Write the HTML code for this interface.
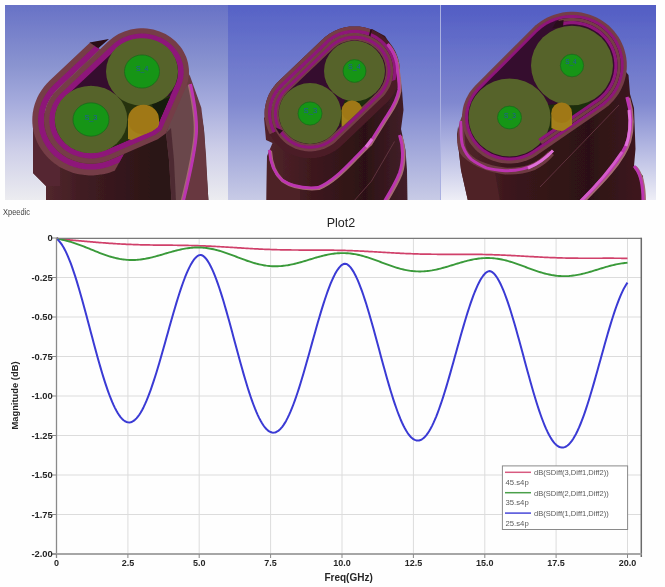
<!DOCTYPE html><html><head><meta charset="utf-8"><title>Plot2</title><style>html,body{margin:0;padding:0;background:#fff;}svg{display:block;}</style></head><body><svg width="665" height="587" viewBox="0 0 665 587">
<defs>
<linearGradient id="bg1" x1="0" y1="5" x2="0" y2="200" gradientUnits="userSpaceOnUse"><stop offset="0" stop-color="#6872c6"/><stop offset="0.31" stop-color="#8a94d0"/><stop offset="0.49" stop-color="#a4aadc"/><stop offset="0.74" stop-color="#cdcee8"/><stop offset="1" stop-color="#ececf0"/></linearGradient>
<linearGradient id="bg2" x1="0" y1="5" x2="0" y2="200" gradientUnits="userSpaceOnUse"><stop offset="0" stop-color="#5662c6"/><stop offset="0.5" stop-color="#7f88d0"/><stop offset="1" stop-color="#c8cbe6"/></linearGradient>
<linearGradient id="bg3" x1="0" y1="5" x2="0" y2="200" gradientUnits="userSpaceOnUse"><stop offset="0" stop-color="#525dc4"/><stop offset="0.5" stop-color="#8088d0"/><stop offset="1" stop-color="#eeeef6"/></linearGradient>
<clipPath id="cp1"><rect x="5" y="5" width="223" height="195"/></clipPath>
<clipPath id="cp2"><rect x="228" y="5" width="212" height="195"/></clipPath>
<clipPath id="cp3"><rect x="441" y="5" width="215" height="195"/></clipPath>
<linearGradient id="bd1" x1="33" y1="0" x2="200" y2="0" gradientUnits="userSpaceOnUse"><stop offset="0" stop-color="#582a31"/><stop offset="0.3" stop-color="#401c22"/><stop offset="0.75" stop-color="#2a1215"/><stop offset="1" stop-color="#30151a"/></linearGradient>
<linearGradient id="bd2" x1="266" y1="0" x2="408" y2="0" gradientUnits="userSpaceOnUse"><stop offset="0" stop-color="#52242b"/><stop offset="0.35" stop-color="#3c181d"/><stop offset="0.7" stop-color="#2c1115"/><stop offset="1" stop-color="#44202a"/></linearGradient>
<linearGradient id="bd3" x1="457" y1="0" x2="645" y2="0" gradientUnits="userSpaceOnUse"><stop offset="0" stop-color="#54262c"/><stop offset="0.3" stop-color="#3a161b"/><stop offset="0.7" stop-color="#2c1115"/><stop offset="1" stop-color="#40191f"/></linearGradient>
<filter id="soft" x="-2%" y="-2%" width="104%" height="104%"><feGaussianBlur stdDeviation="0.55"/></filter>
</defs>
<rect width="665" height="587" fill="#fefefe"/>
<g clip-path="url(#cp1)"><g filter="url(#soft)">
<rect x="5" y="5" width="223" height="195" fill="url(#bg1)"/>
<path d="M33,112 33,173 40,180 46,186 46,201 208.5,201 206,165 204,130 201.5,115 197,97 190,82 185,70 120,120Z" fill="url(#bd1)"/>
<path d="M33,120 33,173 40,180 46,186 60,186 60,150Z" fill="#552830"/>
<path d="M184,66 190,76 195,90 201.3,107.7 204,130 206,155 208.4,201 183,201 193,160 196.5,131.5 194,105 190.5,84 176,95Z" fill="#673840"/>
<path d="M166,133 171,119 176,100 182,88 190.5,84 194,105 196.5,131.5 193,160 183.4,201 171.5,201 169,160Z" fill="#6a474c"/>
<path d="M166,133 169,160 171.5,201 176,201 174,160 171,128Z" fill="#4e2c32"/>
<path d="M190.5,84 C194,100 197,118 196.5,131.5 C196,145 193,162 183.4,201" transform="translate(-1.0,0.3)" fill="none" stroke="#a56a72" stroke-width="3.6"/>
<path d="M190.5,84 C194,100 197,118 196.5,131.5 C196,145 193,162 183.4,201" fill="none" stroke="#bc36b0" stroke-width="3.0"/>
<path d="M48.8,81.5 46.6,83.8 46,84.4 44,86.8 43.5,87.4 41.7,90 41.2,90.7 39.6,93.3 39.1,94 37.7,96.8 37.3,97.6 36.1,100.4 35.8,101.2 34.8,104.1 34.5,104.9 33.7,107.9 33.5,108.7 33,111.7 32.8,112.6 32.5,115.6 32.5,116.1 32.4,116.2 32.4,116.3 32.4,116.5 32.3,119.6 32.3,119.8 32.3,120 32.3,120.2 32.3,120.4 32.4,123.5 32.4,123.7 32.4,123.8 32.5,123.9 32.5,124.4 32.8,127.4 33,128.3 33.5,131.3 33.7,132.1 34.5,135.1 34.8,135.9 35.8,138.8 36.1,139.6 37.3,142.4 37.7,143.2 39.1,146 39.6,146.7 41.2,149.3 41.7,150 43.5,152.6 44,153.2 46,155.6 46.6,156.2 48.8,158.5 49.4,159.1 51.7,161.2 52.4,161.7 54.9,163.7 55.5,164.1 58.2,165.9 58.8,166.4 61.6,168 62.3,168.3 65.2,169.8 65.9,170.1 68.9,171.3 69.6,171.6 72.7,172.7 73.5,172.9 76.6,173.7 77.4,173.9 80.6,174.5 81.3,174.6 84.6,175.1 85.3,175.1 88.6,175.4 89.4,175.4 92.6,175.4 93.4,175.4 96.7,175.1 97.4,175.1 100.7,174.6 101.4,174.5 104.6,173.9 105.4,173.7 108.5,172.9 109.3,172.7 112.4,171.6 113.1,171.3 114.7,170.7 123.9,154.1 111.6,159.3 108.6,160.5 105.5,161.6 102.4,162.4 99.2,163 95.9,163.5 92.6,163.7 89.4,163.7 86.1,163.5 82.8,163 79.6,162.4 76.5,161.6 73.4,160.5 70.4,159.3 67.5,157.9 64.7,156.2 62.1,154.4 59.6,152.5 57.2,150.4 55,148.1 53,145.7 51.1,143.2 49.5,140.5 48.1,137.8 46.8,134.9 45.8,132 45,129.1 44.5,126.1 44.1,123 44,120 44.1,117 44.5,113.9 45,110.9 45.8,108 46.8,105.1 48.1,102.2 49.5,99.5 51.1,96.8 53,94.3 55,91.9 57.2,89.6 100,49.3 90.1,42.6 49.2,81.1Z" fill="#743e46"/>
<path d="M53,85.5 50.8,87.8 50.5,88.1 48.5,90.5 48.2,90.8 46.4,93.4 46.1,93.7 44.5,96.4 44.3,96.7 42.8,99.5 42.7,99.9 41.4,102.7 41.3,103.1 40.3,106 40.1,106.4 39.3,109.4 39.2,109.8 38.7,112.8 38.6,113.3 38.3,116.3 38.2,116.7 38.1,119.8 38.1,120.2 38.2,123.3 38.3,123.7 38.6,126.7 38.7,127.2 39.2,130.2 39.3,130.6 40.1,133.6 40.3,134 41.3,136.9 41.4,137.3 42.7,140.1 42.8,140.5 44.3,143.3 44.5,143.6 46.1,146.3 46.4,146.6 48.2,149.2 48.5,149.5 50.5,151.9 50.8,152.2 53,154.5 53.2,154.8 55.6,156.9 55.9,157.1 58.4,159.1 58.8,159.3 61.4,161.1 61.8,161.3 64.5,163 64.9,163.1 67.8,164.6 68.1,164.7 71.1,166 71.5,166.1 74.6,167.2 75,167.3 78.1,168.1 78.5,168.2 81.7,168.8 82.1,168.9 85.3,169.3 85.7,169.4 89,169.6 89.4,169.6 92.6,169.6 93,169.6 96.3,169.4 96.7,169.3 99.9,168.9 100.3,168.8 103.5,168.2 103.9,168.1 107,167.3 107.4,167.2 110.5,166.1 110.9,166 113.9,164.7 113.9,164.7 119.3,162.4 123.9,154.1 111.6,159.3 108.6,160.5 105.5,161.6 102.4,162.4 99.2,163 95.9,163.5 92.6,163.7 89.4,163.7 86.1,163.5 82.8,163 79.6,162.4 76.5,161.6 73.4,160.5 70.4,159.3 67.5,157.9 64.7,156.2 62.1,154.4 59.6,152.5 57.2,150.4 55,148.1 53,145.7 51.1,143.2 49.5,140.5 48.1,137.8 46.8,134.9 45.8,132 45,129.1 44.5,126.1 44.1,123 44,120 44.1,117 44.5,113.9 45,110.9 45.8,108 46.8,105.1 48.1,102.2 49.5,99.5 51.1,96.8 53,94.3 55,91.9 57.2,89.6 100,49.3 95,45.9 53.1,85.3Z" fill="#8e147a"/>
<path d="M143.6,28.3 140.4,28.3 137.1,28.5 133.8,29 130.6,29.6 127.5,30.4 124.4,31.5 121.4,32.7 118.5,34.1 115.7,35.8 113.1,37.6 110.6,39.5 108.2,41.6 57.2,89.6 55,91.9 53,94.3 51.1,96.8 49.5,99.5 48.1,102.2 46.8,105.1 45.8,108 45,110.9 44.5,113.9 44.1,117 44,120 44.1,123 44.5,126.1 45,129.1 45.8,132 46.8,134.9 48.1,137.8 49.5,140.5 51.1,143.2 53,145.7 55,148.1 57.2,150.4 59.6,152.5 62.1,154.4 64.7,156.2 67.5,157.9 70.4,159.3 73.4,160.5 76.5,161.6 79.6,162.4 82.8,163 86.1,163.5 89.4,163.7 92.6,163.7 95.9,163.5 99.2,163 102.4,162.4 105.5,161.6 108.6,160.5 111.6,159.3 124.5,153.8 157.8,139.3 165.8,133.5 184.9,89.8 186.2,86.9 187.2,84 188,81.1 188.5,78.1 188.9,75 189,72 188.9,69 188.5,65.9 188,62.9 187.2,60 186.2,57.1 184.9,54.2 183.5,51.5 181.9,48.8 180,46.3 178,43.9 175.8,41.6 173.4,39.5 170.9,37.6 168.3,35.8 165.5,34.1 162.6,32.7 159.6,31.5 156.5,30.4 153.4,29.6 150.2,29 146.9,28.5Z" fill="#743e46"/>
<path d="M143.5,33.6 140.5,33.6 137.6,33.8 134.7,34.2 131.8,34.8 129,35.5 126.3,36.4 123.6,37.5 121,38.8 118.5,40.3 116.2,41.8 114,43.6 111.8,45.5 60.9,93.4 58.9,95.5 57.2,97.6 55.5,99.8 54.1,102.1 52.8,104.5 51.8,107 50.9,109.5 50.2,112.1 49.7,114.7 49.4,117.3 49.3,120 49.4,122.7 49.7,125.3 50.2,127.9 50.9,130.5 51.8,133 52.8,135.5 54.1,137.9 55.5,140.2 57.2,142.4 58.9,144.5 60.9,146.5 63,148.4 65.2,150.2 67.5,151.7 70,153.2 72.6,154.5 75.3,155.6 78,156.5 80.8,157.2 83.7,157.8 86.6,158.2 89.5,158.4 92.5,158.4 95.4,158.2 98.3,157.8 101.2,157.2 104,156.5 106.7,155.6 109.6,154.4 122.4,148.9 155.2,134.7 161.5,130.1 180.1,87.7 181.2,85 182.1,82.5 182.8,79.9 183.3,77.3 183.6,74.7 183.7,72 183.6,69.3 183.3,66.7 182.8,64.1 182.1,61.5 181.2,59 180.2,56.5 178.9,54.1 177.5,51.8 175.8,49.6 174.1,47.5 172.1,45.5 170,43.6 167.8,41.8 165.5,40.3 163,38.8 160.4,37.5 157.7,36.4 155,35.5 152.2,34.8 149.3,34.2 146.4,33.8Z" fill="#8e147a"/>
<path d="M143.3,39.2 140.7,39.2 138.1,39.4 135.6,39.7 133.1,40.2 130.6,40.9 128.2,41.7 125.9,42.6 123.7,43.8 121.5,45 119.5,46.4 117.6,47.9 115.6,49.7 64.8,97.4 63.1,99.2 61.6,101 60.2,102.9 59,104.9 57.9,106.9 57,109 56.2,111.2 55.7,113.3 55.2,115.5 55,117.8 54.9,120 55,122.2 55.2,124.5 55.7,126.7 56.2,128.8 57,131 57.9,133.1 59,135.1 60.2,137.1 61.6,139 63.1,140.8 64.8,142.5 66.6,144.1 68.5,145.6 70.5,147 72.7,148.2 74.9,149.4 77.2,150.3 79.6,151.1 82.1,151.8 84.6,152.3 87.1,152.6 89.7,152.8 92.3,152.8 94.9,152.6 97.4,152.3 99.9,151.8 102.4,151.1 104.8,150.3 107.4,149.2 120.2,143.8 152.4,129.8 157,126.4 174.9,85.4 176,83 176.8,80.8 177.3,78.7 177.8,76.5 178,74.2 178.1,72 178,69.8 177.8,67.5 177.3,65.3 176.8,63.2 176,61 175.1,58.9 174,56.9 172.8,54.9 171.4,53 169.9,51.2 168.2,49.5 166.4,47.9 164.5,46.4 162.5,45 160.3,43.8 158.1,42.6 155.8,41.7 153.4,40.9 150.9,40.2 148.4,39.7 145.9,39.4Z" fill="#35082e"/>
<path d="M89.5,42.4 109,39 98.3,48.3Z" fill="#2a0a12"/>
<path d="M150,100 125,96 112,100 105,150 105.5,150 107.4,149.2 120.2,143.8 152.4,129.8 157,126.4 170.3,95.9Z" fill="#26330f"/>
<path d="M152,104 157.4,125.5 169.9,97Z" fill="#141d08"/>
<clipPath id="in1"><path d="M143.4,38.2 143.3,38.2 140.7,38.2 140.6,38.2 138.1,38.4 138,38.4 135.5,38.7 135.4,38.7 132.9,39.2 132.8,39.2 130.4,39.9 130.3,39.9 127.9,40.7 127.8,40.8 125.5,41.7 125.5,41.7 123.2,42.9 123.2,42.9 121,44.1 121,44.2 118.9,45.6 118.9,45.6 116.9,47.1 116.9,47.1 114.9,48.9 114.9,48.9 64.2,96.7 64.1,96.7 62.4,98.5 62.3,98.6 60.8,100.4 60.8,100.4 59.4,102.3 59.3,102.4 58.1,104.4 58.1,104.4 57,106.5 57,106.5 56.1,108.6 56,108.7 55.3,110.8 55.3,110.9 54.7,113.1 54.7,113.2 54.3,115.4 54.2,115.4 54,117.7 54,117.7 53.9,120 53.9,120 54,122.3 54,122.3 54.2,124.6 54.3,124.6 54.7,126.8 54.7,126.9 55.3,129.1 55.3,129.2 56,131.3 56.1,131.4 57,133.5 57,133.5 58.1,135.6 58.1,135.6 59.3,137.6 59.4,137.7 60.8,139.6 60.8,139.6 62.3,141.4 62.4,141.5 64,143.2 64.1,143.3 65.9,144.9 65.9,144.9 67.9,146.4 67.9,146.4 70,147.8 70,147.9 72.2,149.1 72.2,149.1 74.5,150.3 74.5,150.3 76.8,151.2 76.9,151.3 79.3,152.1 79.4,152.1 81.8,152.8 81.9,152.8 84.4,153.3 84.5,153.3 87,153.6 87.1,153.6 89.6,153.8 89.7,153.8 92.3,153.8 92.4,153.8 94.9,153.6 95,153.6 97.5,153.3 97.6,153.3 100.1,152.8 100.2,152.8 102.6,152.1 102.7,152.1 105.1,151.3 105.2,151.2 107.8,150.2 107.8,150.2 120.6,144.7 120.6,144.7 152.8,130.7 152.9,130.6 152.9,130.6 157.6,127.2 157.7,127.2 157.7,127.1 157.8,127 157.9,126.9 157.9,126.8 175.9,85.8 175.9,85.8 176.9,83.4 177,83.3 177.7,81.2 177.7,81.1 178.3,78.9 178.3,78.8 178.7,76.6 178.8,76.6 179,74.3 179,74.3 179.1,72 179.1,72 179,69.7 179,69.7 178.8,67.4 178.7,67.4 178.3,65.2 178.3,65.1 177.7,62.9 177.7,62.8 177,60.7 176.9,60.6 176,58.5 176,58.5 174.9,56.4 174.9,56.4 173.7,54.4 173.6,54.3 172.2,52.4 172.2,52.4 170.7,50.6 170.6,50.5 169,48.8 168.9,48.7 167.1,47.1 167.1,47.1 165.1,45.6 165.1,45.6 163,44.2 163,44.1 160.8,42.9 160.8,42.9 158.5,41.7 158.5,41.7 156.2,40.8 156.1,40.7 153.7,39.9 153.6,39.9 151.2,39.2 151.1,39.2 148.6,38.7 148.5,38.7 146,38.4 145.9,38.4Z"/></clipPath><g clip-path="url(#in1)">
<ellipse cx="142" cy="71.5" rx="36" ry="34.2" fill="#56632a"/>
<ellipse cx="142" cy="71.5" rx="17.5" ry="16.6" fill="#159515" stroke="#1d6a1d" stroke-width="0.8"/>
<text x="136" y="70.8" font-size="7.5" fill="#2456a6" font-family="Liberation Sans, sans-serif" textLength="12.3" lengthAdjust="spacingAndGlyphs">S_4</text>
<path d="M128,119 L128,139 Q143.5,146 159,139 L159,119 Z" fill="#a4801a"/>
<ellipse cx="143.5" cy="119.5" rx="15.5" ry="14.7" fill="#a07814"/>
<ellipse cx="91" cy="119.5" rx="36.3" ry="33.8" fill="#56632a"/>
<ellipse cx="91" cy="119.5" rx="18" ry="16.7" fill="#159515" stroke="#1d6a1d" stroke-width="0.8"/>
<text x="84.4" y="119.9" font-size="7.5" fill="#2456a6" font-family="Liberation Sans, sans-serif" textLength="13" lengthAdjust="spacingAndGlyphs">S_3</text>
</g>
</g></g>
<g clip-path="url(#cp2)"><g filter="url(#soft)">
<rect x="228" y="5" width="212" height="195" fill="url(#bg2)"/>
<path d="M264,118 266,140 272.5,143 267,156 266.5,201 407.5,201 407,170 405.5,150 401,129 403.5,110 402,90 399,70 394,50 385,36 372,29 320,60Z" fill="url(#bd2)"/>
<path d="M267,156 266.5,201 300,201 300,185 280,179 271.7,166.7Z" fill="#4e2228"/>
<path d="M394.5,141.5 L371.4,181.2 L354.8,200" fill="none" stroke="#6a3a44" stroke-width="0.8"/>
<path d="M399.5,134.9 C403,145 404,160 399.5,173 C396,182 390,192 384.6,201" transform="translate(1.2,1.2)" fill="none" stroke="#a56a72" stroke-width="3.6"/>
<path d="M399.5,134.9 C403,145 404,160 399.5,173 C396,182 390,192 384.6,201" fill="none" stroke="#bc36b0" stroke-width="3.0"/>
<path d="M355.9,26.4 353.1,26.4 352.7,26.4 350,26.6 349.5,26.6 346.9,27 346.4,27.1 343.8,27.6 343.3,27.8 340.7,28.5 340.3,28.6 337.8,29.5 337.3,29.7 334.9,30.8 334.4,31 332.1,32.2 331.7,32.4 329.4,33.8 329,34.1 326.8,35.7 326.4,35.9 324.3,37.6 324,37.9 322.1,39.8 322,39.8 277.5,82.3 277.2,82.6 275.4,84.6 275.1,84.9 273.5,87 273.2,87.4 271.7,89.6 271.4,90 270.1,92.3 269.8,92.7 268.6,95.1 268.5,95.5 267.4,98 267.3,98.4 266.4,100.9 266.3,101.4 265.7,104 265.6,104.4 265.1,107 265,107.5 264.7,110.1 264.7,110.6 264.6,113.3 264.6,113.7 264.7,116.4 264.7,116.9 265,119.5 265.1,120 265.6,122.6 265.7,123 266.3,125.6 266.4,126.1 267.3,128.6 267.4,129 268.5,131.5 268.6,131.9 269.8,134.3 270.1,134.7 271.4,137 271.7,137.4 273.2,139.6 273.5,140 275.1,142.1 275.4,142.4 277.2,144.4 277.6,144.7 279.5,146.6 279.8,146.9 281.9,148.6 282.3,148.8 284.5,150.4 284.9,150.7 287.2,152.1 287.6,152.3 289.9,153.5 290.4,153.7 292.8,154.8 293.3,155 295.8,155.9 296.2,156 298.8,156.7 299.3,156.9 301.9,157.4 302.4,157.5 305,157.9 305.5,157.9 308.2,158.1 308.6,158.1 311.4,158.1 311.8,158.1 314.5,157.9 315,157.9 317.6,157.5 318.1,157.4 320.7,156.9 321.2,156.7 323.8,156 324.2,155.9 326.7,155 327.2,154.8 329.6,153.7 330.1,153.5 332.4,152.3 332.8,152.1 335.1,150.7 335.5,150.4 337.7,148.8 338.1,148.6 340.2,146.9 340.5,146.6 342.4,144.7 342.5,144.7 387,102.2 387.3,101.9 389.1,99.9 389.4,99.6 391,97.5 391.3,97.1 392.8,94.9 393.1,94.5 394.4,92.2 394.7,91.8 395.9,89.4 396,89 397.1,86.5 397.2,86.1 398.1,83.6 398.2,83.1 398.8,80.5 398.9,80.1 399.4,77.5 399.5,77 399.8,74.4 399.8,73.9 399.9,71.2 399.9,70.8 399.8,68.1 399.8,67.6 399.5,65 399.4,64.5 398.9,61.9 398.8,61.5 398.2,58.9 398.1,58.4 397.2,55.9 397.1,55.5 396,53 395.9,52.6 394.7,50.2 394.4,49.8 393.1,47.5 392.8,47.1 391.3,44.9 391,44.5 389.4,42.4 389.1,42.1 387.3,40.1 386.9,39.8 385,37.9 384.7,37.6 382.6,35.9 382.2,35.7 380,34.1 379.6,33.8 377.3,32.4 376.9,32.2 374.6,31 374.1,30.8 371.7,29.7 371.2,29.5 368.7,28.6 368.3,28.5 365.7,27.8 365.2,27.6 362.6,27.1 362.1,27 359.5,26.6 359,26.6 356.3,26.4ZM358.5,33.3 361.2,33.7 363.9,34.2 366.5,34.9 369,35.8 371.5,36.9 373.9,38.2 376.1,39.6 378.3,41.1 380.4,42.8 382.3,44.7 384.1,46.6 385.8,48.7 387.3,50.9 388.7,53.2 389.9,55.6 390.9,58 391.7,60.5 392.4,63.1 392.8,65.7 393.1,68.4 393.2,71 393.1,73.6 392.8,76.3 392.4,78.9 391.7,81.5 390.9,84 389.9,86.4 388.7,88.8 387.3,91.1 385.8,93.3 384.1,95.4 382.3,97.3 337.8,139.8 335.9,141.7 333.8,143.4 331.6,144.9 329.4,146.3 327,147.6 324.5,148.7 322,149.6 319.4,150.3 316.7,150.8 314,151.2 311.4,151.4 308.6,151.4 306,151.2 303.3,150.8 300.6,150.3 298,149.6 295.5,148.7 293,147.6 290.6,146.3 288.4,144.9 286.2,143.4 284.1,141.7 282.2,139.8 280.4,137.9 278.7,135.8 277.2,133.6 275.8,131.3 274.6,128.9 273.6,126.5 272.8,124 272.1,121.4 271.7,118.8 271.4,116.1 271.3,113.5 271.4,110.9 271.7,108.2 272.1,105.6 272.8,103 273.6,100.5 274.6,98.1 275.8,95.7 277.2,93.4 278.7,91.2 280.4,89.1 282.2,87.2 326.7,44.7 328.6,42.8 330.7,41.1 332.9,39.6 335.1,38.2 337.5,36.9 340,35.8 342.5,34.9 345.1,34.2 347.8,33.7 350.5,33.3 353.1,33.1 355.9,33.1Z" fill="#4c1c28"/>
<path d="M353.1,26.4 352.7,26.4 350,26.6 349.5,26.6 346.9,27 346.4,27.1 343.8,27.6 343.3,27.8 340.7,28.5 340.3,28.6 337.8,29.5 337.3,29.7 334.9,30.8 334.4,31 332.1,32.2 331.7,32.4 329.4,33.8 329,34.1 326.8,35.7 326.4,35.9 324.3,37.6 324,37.9 322.1,39.8 322,39.8 277.5,82.3 277.2,82.6 275.4,84.6 275.1,84.9 273.5,87 273.2,87.4 271.7,89.6 271.4,90 270.1,92.3 269.8,92.7 268.6,95.1 268.5,95.5 267.4,98 267.3,98.4 266.4,100.9 266.3,101.4 265.7,104 265.6,104.4 265.1,107 265,107.5 264.7,110.1 264.7,110.6 264.6,113.3 264.6,113.7 264.7,116.4 264.7,116.9 265,119.5 265.1,120 265.6,122.6 265.7,123 266.3,125.6 266.4,126.1 267.3,128.6 267.4,129 268.5,131.5 268.6,131.9 269.8,134.2 275.8,131.2 274.6,128.9 273.6,126.5 272.8,124 272.1,121.4 271.7,118.8 271.4,116.1 271.3,113.5 271.4,110.9 271.7,108.2 272.1,105.6 272.8,103 273.6,100.5 274.6,98.1 275.8,95.7 277.2,93.4 278.7,91.2 280.4,89.1 282.2,87.2 326.7,44.7 328.6,42.8 330.7,41.1 332.9,39.6 335.1,38.2 337.5,36.9 340,35.8 342.5,34.9 345.1,34.2 347.8,33.7 350.5,33.3 353.1,33.1 355.9,33.1 358.5,33.3 361.2,33.7 363.9,34.2 366.5,34.9 369,35.8 369.1,35.9 371.7,29.7 371.7,29.7 371.2,29.5 368.7,28.6 368.3,28.5 365.7,27.8 365.2,27.6 362.6,27.1 362.1,27 359.5,26.6 359,26.6 356.3,26.4 355.9,26.4Z" fill="#743e46"/>
<path d="M353.1,29.8 352.9,29.8 350.2,30 350,30 347.3,30.4 347.1,30.4 344.5,31 344.2,31 341.6,31.8 341.4,31.8 338.9,32.7 338.7,32.8 336.2,33.9 336,34 333.6,35.2 333.4,35.3 331.1,36.7 330.9,36.9 328.8,38.4 328.6,38.6 326.5,40.3 326.3,40.4 324.4,42.3 324.4,42.3 279.9,84.8 279.7,84.9 277.9,86.9 277.8,87.1 276.1,89.2 276,89.3 274.5,91.5 274.3,91.7 273,94 272.9,94.2 271.7,96.6 271.6,96.8 270.6,99.3 270.5,99.5 269.7,102 269.6,102.2 268.9,104.8 268.9,105 268.4,107.6 268.4,107.9 268.1,110.5 268.1,110.7 268,113.4 268,113.6 268.1,116.3 268.1,116.5 268.4,119.1 268.4,119.4 268.9,122 268.9,122.2 269.6,124.8 269.7,125 270.5,127.5 270.6,127.7 271.6,130.2 271.7,130.4 272.8,132.7 275.8,131.2 274.6,128.9 273.6,126.5 272.8,124 272.1,121.4 271.7,118.8 271.4,116.1 271.3,113.5 271.4,110.9 271.7,108.2 272.1,105.6 272.8,103 273.6,100.5 274.6,98.1 275.8,95.7 277.2,93.4 278.7,91.2 280.4,89.1 282.2,87.2 326.7,44.7 328.6,42.8 330.7,41.1 332.9,39.6 335.1,38.2 337.5,36.9 340,35.8 342.5,34.9 345.1,34.2 347.8,33.7 350.5,33.3 353.1,33.1 355.9,33.1 358.5,33.3 361.2,33.7 363.9,34.2 366.5,34.9 369,35.8 371.5,36.9 373.9,38.2 376.1,39.6 378.3,41.1 380.4,42.8 382.3,44.7 384.1,46.6 385.8,48.7 387.3,50.9 388.7,53.2 389.9,55.6 390.9,58 391.7,60.5 392.4,63.1 392.8,65.7 393.1,68.4 393.2,71 393.1,73.6 392.8,76.3 392.4,78.9 391.8,81 395,80 395.5,80 395.6,79.7 395.6,79.5 396.1,76.9 396.1,76.6 396.4,74 396.4,73.8 396.5,71.1 396.5,70.9 396.4,68.2 396.4,68 396.1,65.4 396.1,65.1 395.6,62.5 395.6,62.3 394.9,59.7 394.8,59.5 394,57 393.9,56.8 392.9,54.3 392.8,54.1 391.6,51.7 391.5,51.5 390.2,49.2 390,49 388.5,46.8 388.4,46.7 386.7,44.6 386.6,44.4 384.8,42.4 384.6,42.3 382.7,40.4 382.5,40.3 380.4,38.6 380.2,38.4 378.1,36.9 377.9,36.7 375.6,35.3 375.4,35.2 373,34 372.8,33.9 370.3,32.8 370.1,32.7 367.6,31.8 367.4,31.8 364.8,31 364.5,31 361.9,30.4 361.7,30.4 359,30 358.8,30 356.1,29.8 355.9,29.8Z" fill="#8e147a"/>
<path d="M387.4,44.0 L388.0,44.7 L388.6,45.5 L389.2,46.3 L389.8,47.1 L390.3,47.9 L390.9,48.7 L391.4,49.6 L391.9,50.4 L392.4,51.3 L392.8,52.1 L393.3,53.0 L393.7,53.9 L394.1,54.8 L394.5,55.7 L394.8,56.6 L395.1,57.5 L395.5,58.5 L395.7,59.4 L396.0,60.4 L396.2,61.3 L396.5,62.3 L396.7,63.2 L396.8,64.2 L397.0,65.1 L397.1,66.1 L397.2,67.1 L397.3,68.1 L397.4,69.0 L397.4,70.0 L397.4,71.0 C398.5,78 399.5,84 398.8,90 C397,100 392,108 388,114 C384,120 376,133 369.7,143.2 C366,146 362,151 354.8,158 C345,168 332,182 318,187.5 C305,188.5 292,187 282,180 C273,172 270,160 269.4,149.9" transform="translate(0.9,0.9)" fill="none" stroke="#a56a72" stroke-width="3.4"/>
<path d="M387.4,44.0 L388.0,44.7 L388.6,45.5 L389.2,46.3 L389.8,47.1 L390.3,47.9 L390.9,48.7 L391.4,49.6 L391.9,50.4 L392.4,51.3 L392.8,52.1 L393.3,53.0 L393.7,53.9 L394.1,54.8 L394.5,55.7 L394.8,56.6 L395.1,57.5 L395.5,58.5 L395.7,59.4 L396.0,60.4 L396.2,61.3 L396.5,62.3 L396.7,63.2 L396.8,64.2 L397.0,65.1 L397.1,66.1 L397.2,67.1 L397.3,68.1 L397.4,69.0 L397.4,70.0 L397.4,71.0 C398.5,78 399.5,84 398.8,90 C397,100 392,108 388,114 C384,120 376,133 369.7,143.2 C366,146 362,151 354.8,158 C345,168 332,182 318,187.5 C305,188.5 292,187 282,180 C273,172 270,160 269.4,149.9" fill="none" stroke="#bc36b0" stroke-width="2.8"/>
<path d="M366,147 L372,139" fill="none" stroke="#e070d8" stroke-width="3.2"/>
<path d="M371.2,29.5 L369.5,36.5" fill="none" stroke="#2a0a18" stroke-width="1.6"/>
<path d="M355.9,33.1 353.1,33.1 350.5,33.3 347.8,33.7 345.1,34.2 342.5,34.9 340,35.8 337.5,36.9 335.1,38.2 332.9,39.6 330.7,41.1 328.6,42.8 326.7,44.7 282.2,87.2 280.4,89.1 278.7,91.2 277.2,93.4 275.8,95.7 274.6,98.1 273.6,100.5 272.8,103 272.1,105.6 271.7,108.2 271.4,110.9 271.3,113.5 271.4,116.1 271.7,118.8 272.1,121.4 272.8,124 273.6,126.5 274.6,128.9 275.8,131.3 277.2,133.6 278.7,135.8 280.4,137.9 282.2,139.8 284.1,141.7 286.2,143.4 288.4,144.9 290.6,146.3 293,147.6 295.5,148.7 298,149.6 300.6,150.3 303.3,150.8 306,151.2 308.6,151.4 311.4,151.4 314,151.2 316.7,150.8 319.4,150.3 322,149.6 324.5,148.7 327,147.6 329.4,146.3 331.6,144.9 333.8,143.4 335.9,141.7 337.8,139.8 382.3,97.3 384.1,95.4 385.8,93.3 387.3,91.1 388.7,88.8 389.9,86.4 390.9,84 391.7,81.5 392.4,78.9 392.8,76.3 393.1,73.6 393.2,71 393.1,68.4 392.8,65.7 392.4,63.1 391.7,60.5 390.9,58 389.9,55.6 388.7,53.2 387.3,50.9 385.8,48.7 384.1,46.6 382.3,44.7 380.4,42.8 378.3,41.1 376.1,39.6 373.9,38.2 371.5,36.9 369,35.8 366.5,34.9 363.9,34.2 361.2,33.7 358.5,33.3Z" fill="#743e46"/>
<path d="M355.8,35.7 353.2,35.7 350.7,35.9 348.2,36.2 345.8,36.7 343.3,37.4 341,38.3 338.7,39.3 336.4,40.4 334.3,41.7 332.3,43.2 330.3,44.8 328.5,46.5 284,89 282.3,90.8 280.8,92.8 279.4,94.8 278.1,96.9 277,99.2 276.1,101.4 275.3,103.8 274.7,106.2 274.3,108.6 274,111 273.9,113.5 274,116 274.3,118.4 274.7,120.8 275.3,123.2 276.1,125.6 277,127.8 278.1,130.1 279.4,132.2 280.8,134.2 282.3,136.2 284,138 285.8,139.7 287.8,141.3 289.8,142.8 291.9,144.1 294.2,145.2 296.5,146.2 298.8,147.1 301.3,147.8 303.7,148.3 306.2,148.6 308.7,148.8 311.3,148.8 313.8,148.6 316.3,148.3 318.7,147.8 321.2,147.1 323.5,146.2 325.8,145.2 328.1,144.1 330.2,142.8 332.2,141.3 334.2,139.7 336,138 380.5,95.5 382.2,93.7 383.7,91.7 385.1,89.7 386.4,87.6 387.5,85.3 388.4,83.1 389.2,80.7 389.8,78.3 390.2,75.9 390.5,73.5 390.6,71 390.5,68.5 390.2,66.1 389.8,63.7 389.2,61.3 388.4,58.9 387.5,56.7 386.4,54.4 385.1,52.3 383.7,50.3 382.2,48.3 380.5,46.5 378.7,44.8 376.7,43.2 374.7,41.7 372.6,40.4 370.3,39.3 368,38.3 365.7,37.4 363.2,36.7 360.8,36.2 358.3,35.9Z" fill="#8e147a"/>
<path d="M355.7,38.7 353.3,38.7 351,38.9 348.7,39.2 346.5,39.6 344.2,40.3 342.1,41 340,42 337.9,43 335.9,44.2 334.1,45.6 332.3,47 330.5,48.7 286.2,91.1 284.6,92.8 283.2,94.5 281.9,96.4 280.8,98.4 279.7,100.4 278.9,102.5 278.2,104.6 277.6,106.8 277.2,109 277,111.3 276.9,113.5 277,115.7 277.2,118 277.6,120.2 278.2,122.4 278.9,124.5 279.7,126.6 280.8,128.6 281.9,130.6 283.2,132.5 284.6,134.2 286.2,135.9 287.8,137.5 289.6,138.9 291.4,140.3 293.4,141.5 295.5,142.5 297.6,143.5 299.7,144.2 302,144.9 304.2,145.3 306.5,145.6 308.8,145.8 311.2,145.8 313.5,145.6 315.8,145.3 318,144.9 320.3,144.2 322.4,143.5 324.5,142.5 326.6,141.5 328.6,140.3 330.4,138.9 332.2,137.5 334,135.8 378.3,93.4 379.9,91.7 381.3,90 382.6,88.1 383.7,86.1 384.8,84.1 385.6,82 386.3,79.9 386.9,77.7 387.3,75.5 387.5,73.2 387.6,71 387.5,68.8 387.3,66.5 386.9,64.3 386.3,62.1 385.6,60 384.8,57.9 383.7,55.9 382.6,53.9 381.3,52 379.9,50.3 378.3,48.6 376.7,47 374.9,45.6 373.1,44.2 371.1,43 369,42 366.9,41 364.8,40.3 362.5,39.6 360.3,39.2 358,38.9Z" fill="#743e46"/>
<path d="M355.6,40.5 353.4,40.5 351.2,40.6 349,40.9 346.9,41.4 344.8,42 342.7,42.7 340.7,43.6 338.8,44.6 336.9,45.7 335.2,47 333.5,48.4 331.8,50 287.4,92.3 286,93.9 284.6,95.6 283.4,97.4 282.3,99.2 281.4,101.1 280.6,103.1 279.9,105.1 279.4,107.2 279,109.3 278.8,111.4 278.7,113.5 278.8,115.6 279,117.7 279.4,119.8 279.9,121.9 280.6,123.9 281.4,125.9 282.3,127.8 283.4,129.6 284.6,131.4 286,133.1 287.4,134.6 289,136.1 290.7,137.5 292.4,138.8 294.3,139.9 296.2,140.9 298.2,141.8 300.3,142.5 302.4,143.1 304.5,143.6 306.7,143.9 308.9,144 311.1,144 313.3,143.9 315.5,143.6 317.6,143.1 319.7,142.5 321.8,141.8 323.8,140.9 325.7,139.9 327.6,138.8 329.3,137.5 331,136.1 332.7,134.5 377.1,92.2 378.5,90.6 379.9,88.9 381.1,87.1 382.2,85.3 383.1,83.4 383.9,81.4 384.6,79.4 385.1,77.3 385.5,75.2 385.7,73.1 385.8,71 385.7,68.9 385.5,66.8 385.1,64.7 384.6,62.6 383.9,60.6 383.1,58.6 382.2,56.7 381.1,54.9 379.9,53.1 378.5,51.4 377.1,49.9 375.5,48.4 373.8,47 372.1,45.7 370.2,44.6 368.3,43.6 366.3,42.7 364.2,42 362.1,41.4 360,40.9 357.8,40.6Z" fill="#35082e"/>
<path d="M345,100 335,125 344.7,123.1 373.9,95.2Z" fill="#1f2d0d"/>
<path d="M275.5,127.5 283,130.5 279.5,134Z" fill="#2a0a1e"/>
<clipPath id="in2"><path d="M355.7,39.5 355.6,39.5 353.4,39.5 353.3,39.5 351.1,39.6 351.1,39.7 348.9,40 348.8,40 346.7,40.4 346.6,40.4 344.5,41 344.5,41 342.4,41.8 342.3,41.8 340.3,42.7 340.3,42.7 338.3,43.7 338.3,43.7 336.4,44.9 336.4,44.9 334.6,46.2 334.5,46.2 332.9,47.6 332.8,47.6 331.1,49.3 331.1,49.3 286.8,91.6 286.7,91.7 285.2,93.3 285.2,93.3 283.9,95 283.8,95.1 282.6,96.8 282.6,96.9 281.5,98.7 281.4,98.8 280.5,100.7 280.5,100.8 279.7,102.7 279.6,102.8 279,104.8 278.9,104.9 278.4,106.9 278.4,107 278,109.1 278,109.2 277.8,111.3 277.8,111.3 277.7,113.5 277.7,113.5 277.8,115.7 277.8,115.7 278,117.8 278,117.9 278.4,120 278.4,120.1 278.9,122.1 279,122.2 279.6,124.2 279.7,124.3 280.5,126.2 280.5,126.3 281.4,128.2 281.5,128.3 282.6,130.1 282.6,130.2 283.8,131.9 283.9,132 285.2,133.7 285.2,133.7 286.7,135.3 286.7,135.4 288.3,136.9 288.4,136.9 290,138.3 290.1,138.3 291.9,139.6 291.9,139.6 293.8,140.8 293.8,140.8 295.8,141.8 295.8,141.8 297.8,142.7 297.9,142.7 300,143.5 300,143.5 302.1,144.1 302.2,144.1 304.3,144.5 304.4,144.5 306.6,144.8 306.6,144.9 308.8,145 308.9,145 311.1,145 311.2,145 313.4,144.9 313.4,144.8 315.6,144.5 315.7,144.5 317.8,144.1 317.9,144.1 320,143.5 320,143.5 322.1,142.7 322.2,142.7 324.2,141.8 324.2,141.8 326.2,140.8 326.2,140.8 328.1,139.6 328.1,139.6 329.9,138.3 330,138.3 331.6,136.9 331.7,136.9 333.4,135.2 333.4,135.2 377.7,92.9 377.8,92.8 379.3,91.2 379.3,91.2 380.6,89.5 380.7,89.4 381.9,87.7 381.9,87.6 383,85.8 383.1,85.7 384,83.8 384,83.7 384.8,81.8 384.9,81.7 385.5,79.7 385.6,79.6 386.1,77.6 386.1,77.5 386.5,75.4 386.5,75.3 386.7,73.2 386.7,73.2 386.8,71 386.8,71 386.7,68.8 386.7,68.8 386.5,66.7 386.5,66.6 386.1,64.5 386.1,64.4 385.6,62.4 385.5,62.3 384.9,60.3 384.8,60.2 384,58.3 384,58.2 383.1,56.3 383,56.2 381.9,54.4 381.9,54.3 380.7,52.6 380.6,52.5 379.3,50.8 379.3,50.8 377.8,49.2 377.8,49.1 376.2,47.6 376.1,47.6 374.5,46.2 374.4,46.2 372.6,44.9 372.6,44.9 370.7,43.7 370.7,43.7 368.7,42.7 368.7,42.7 366.7,41.8 366.6,41.8 364.5,41 364.5,41 362.4,40.4 362.3,40.4 360.2,40 360.1,40 357.9,39.7 357.9,39.6Z"/></clipPath><g clip-path="url(#in2)">
<ellipse cx="354.5" cy="71" rx="30.5" ry="30.2" fill="#56632a"/>
<ellipse cx="354.5" cy="71" rx="11.5" ry="11.4" fill="#159515" stroke="#1d6a1d" stroke-width="0.8"/>
<text x="348.1" y="68.8" font-size="6.5" fill="#2456a6" font-family="Liberation Sans, sans-serif" textLength="12.5" lengthAdjust="spacingAndGlyphs">S_4</text>
<path d="M341.6,110.6 L341.6,126 Q352,131 362.4,126 L362.4,110.6 Z" fill="#a4801a"/>
<ellipse cx="352" cy="110.6" rx="10.4" ry="10.2" fill="#a07814"/>
<ellipse cx="310" cy="113.5" rx="31.3" ry="30.4" fill="#56632a"/>
<ellipse cx="310" cy="113.5" rx="12" ry="11.6" fill="#159515" stroke="#1d6a1d" stroke-width="0.8"/>
<text x="303.6" y="112.7" font-size="6.5" fill="#2456a6" font-family="Liberation Sans, sans-serif" textLength="13.6" lengthAdjust="spacingAndGlyphs">S_3</text>
</g>
</g></g>
<g clip-path="url(#cp3)"><g filter="url(#soft)">
<rect x="441" y="5" width="215" height="195" fill="url(#bg3)"/>
<path d="M462,122 457,135 461,170 468,201 644,201 643,176 634,166 635.5,149 634,108 630,94 628.5,75 600,40 520,100Z" fill="url(#bd3)"/>
<path d="M458,127 457,135 461,170 468,201 500,201 495,172 470,162Z" fill="#4f2228"/>
<path d="M540,187 L619,105" fill="none" stroke="#6a3a44" stroke-width="0.8"/>
<path d="M463,114 C459,122 457.2,132 457.2,142.5 C458,150 460,154 463.8,157.5 C470,163 476,166.5 482.5,168.8 C490,171.5 497,173.5 505,174.4 C515,175 525,174 535,170 C543,166 549,161 554,155 L549,151 C543,157 536,162 528,165 C520,167.5 512,168 505,167.5 C496,166.5 488,164.5 480,161 C474,158 469.5,154.5 467,150 C465,146 464.5,140 464.5,133 C464.5,126 464.5,120 465,114 Z" fill="#6e3a42"/>
<path d="M461,121 C460.8,132 461,141 462.8,146.3 C465,152 467.5,156 471.3,159.4 C476,163 481,165.5 486.3,167.9 C492,169.5 498,170.3 505,170.7 C517,171 528,168.5 537,163.5 C542,160.5 546,157 549,154" fill="none" stroke="#bc36b0" stroke-width="3"/>
<path d="M528,168 C538,164 546,158 553,150.5" fill="none" stroke="#e070d8" stroke-width="3"/>
<path d="M627,97 C631,110 632,125 628,140 C622,160 600,182 581,201" transform="translate(1.2,1.2)" fill="none" stroke="#a56a72" stroke-width="4.0"/>
<path d="M627,97 C631,110 632,125 628,140 C622,160 600,182 581,201" fill="none" stroke="#bc36b0" stroke-width="3.4"/>
<path d="M622,152 C610,170 595,187 581,201" fill="none" stroke="#d45ac8" stroke-width="3"/>
<path d="M629,110 C631,125 630,135 626,146" fill="none" stroke="#e070d8" stroke-width="3"/>
<path d="M634,166 C640,172 643,185 643,201" transform="translate(1.2,1.2)" fill="none" stroke="#a56a72" stroke-width="3.6"/>
<path d="M634,166 C640,172 643,185 643,201" fill="none" stroke="#bc36b0" stroke-width="3.0"/>
<path d="M573.9,11.8 570.1,11.8 566.3,12.1 562.5,12.6 558.7,13.4 555.1,14.4 551.5,15.7 548,17.2 544.6,19 541.4,21 538.3,23.2 535.3,25.6 532.6,28.2 475.3,85.5 473.1,87.9 471.1,90.4 469.2,93.1 467.6,95.9 466.1,98.8 464.9,101.7 463.8,104.8 463,107.9 462.5,111.1 462.1,114.3 462,117.5 462.1,120.7 462.5,123.9 463,127.1 463.8,130.2 464.9,133.3 466.1,136.2 467.6,139.1 469.2,141.9 471.1,144.6 473.1,147.1 475.3,149.5 477.7,151.7 480.3,153.8 482.9,155.7 485.8,157.4 488.7,158.9 491.7,160.2 494.8,161.3 498,162.2 501.3,162.9 504.5,163.3 507.8,163.5 511.2,163.5 514.5,163.3 517.7,162.9 521,162.2 524.2,161.3 527.3,160.2 530.3,158.9 533.2,157.4 536.1,155.7 602.6,110 605.7,107.8 608.7,105.4 611.4,102.8 614,100 616.3,97.1 618.5,94 620.4,90.7 622.1,87.3 623.5,83.9 624.7,80.3 625.6,76.7 626.3,73 626.7,69.2 626.8,65.5 626.7,61.8 626.3,58 625.6,54.3 624.7,50.7 623.5,47.1 622.1,43.7 620.4,40.3 618.5,37 616.3,33.9 614,31 611.4,28.2 608.7,25.6 605.7,23.2 602.6,21 599.4,19 596,17.2 592.5,15.7 588.9,14.4 585.3,13.4 581.5,12.6 577.7,12.1Z" fill="#743e46"/>
<path d="M573.8,14.9 570.2,14.9 566.6,15.2 563,15.7 559.5,16.4 556,17.4 552.6,18.6 549.3,20 546.1,21.7 543.1,23.6 540.1,25.6 537.4,27.9 534.7,30.4 477.6,87.6 475.5,89.9 473.6,92.3 471.8,94.8 470.3,97.4 468.9,100.1 467.8,102.8 466.8,105.7 466.1,108.6 465.5,111.5 465.2,114.5 465.1,117.5 465.2,120.5 465.5,123.5 466.1,126.4 466.8,129.3 467.8,132.2 468.9,134.9 470.3,137.6 471.8,140.2 473.6,142.7 475.5,145.1 477.5,147.3 479.8,149.4 482.1,151.3 484.6,153.1 487.3,154.7 490,156.1 492.8,157.3 495.8,158.4 498.7,159.2 501.8,159.8 504.8,160.2 507.9,160.4 511.1,160.4 514.2,160.2 517.2,159.8 520.3,159.2 523.2,158.4 526.2,157.3 529,156.1 531.7,154.7 534.4,153.1 600.9,107.5 603.9,105.4 606.6,103.1 609.2,100.6 611.6,98 613.8,95.2 615.9,92.3 617.7,89.2 619.2,86.1 620.6,82.8 621.7,79.4 622.6,76 623.2,72.5 623.6,69 623.7,65.5 623.6,62 623.2,58.5 622.6,55 621.7,51.6 620.6,48.2 619.2,44.9 617.7,41.8 615.9,38.7 613.8,35.8 611.6,33 609.2,30.4 606.6,27.9 603.9,25.6 600.9,23.6 597.9,21.7 594.7,20 591.4,18.6 588,17.4 584.5,16.4 581,15.7 577.4,15.2Z" fill="#8e147a"/>
<path d="M573.7,17.9 570.3,17.9 566.9,18.2 563.5,18.6 560.2,19.3 556.9,20.2 553.7,21.4 550.6,22.7 547.6,24.3 544.7,26.1 542,28 539.4,30.2 536.8,32.6 479.7,89.7 477.7,91.9 476,94.1 474.3,96.4 472.9,98.8 471.7,101.3 470.6,103.9 469.7,106.5 469,109.2 468.5,112 468.2,114.7 468.1,117.5 468.2,120.3 468.5,123 469,125.8 469.7,128.5 470.6,131.1 471.7,133.7 472.9,136.2 474.3,138.6 476,140.9 477.7,143.1 479.7,145.2 481.7,147.1 483.9,148.9 486.3,150.6 488.7,152.1 491.3,153.4 493.9,154.5 496.7,155.5 499.4,156.3 502.3,156.9 505.2,157.3 508,157.4 511,157.4 513.8,157.3 516.7,156.9 519.6,156.3 522.3,155.5 525.1,154.5 527.7,153.4 530.3,152.1 532.8,150.6 599.1,105 602,103 604.6,100.8 607.1,98.5 609.3,96.1 611.4,93.4 613.3,90.7 615,87.8 616.5,84.8 617.8,81.7 618.8,78.6 619.6,75.4 620.2,72.1 620.6,68.8 620.7,65.5 620.6,62.2 620.2,58.9 619.6,55.6 618.8,52.4 617.8,49.3 616.5,46.2 615,43.2 613.3,40.3 611.4,37.6 609.3,34.9 607.1,32.5 604.6,30.2 602,28 599.3,26.1 596.4,24.3 593.4,22.7 590.3,21.4 587.1,20.2 583.8,19.3 580.5,18.6 577.1,18.2Z" fill="#35082e"/>
<path d="M585,100 548,105 540,130 562.7,130 599.1,105 599.4,104.8Z" fill="#1f2d0d"/>
<clipPath id="in3"><path d="M573.8,16.9 573.7,16.9 570.3,16.9 570.2,16.9 566.8,17.2 566.8,17.2 563.4,17.6 563.3,17.6 560,18.3 559.9,18.4 556.6,19.3 556.6,19.3 553.4,20.4 553.3,20.5 550.2,21.8 550.1,21.9 547.1,23.4 547.1,23.5 544.2,25.2 544.1,25.3 541.4,27.2 541.3,27.3 538.7,29.4 538.7,29.4 536.1,31.8 536.1,31.9 479,89 479,89 477,91.2 477,91.2 475.2,93.4 475.1,93.5 473.5,95.8 473.5,95.9 472.1,98.3 472,98.4 470.8,100.9 470.7,100.9 469.7,103.5 469.6,103.6 468.7,106.2 468.7,106.3 468,109 468,109 467.5,111.8 467.5,111.9 467.2,114.6 467.2,114.7 467.1,117.5 467.1,117.5 467.2,120.3 467.2,120.4 467.5,123.1 467.5,123.2 468,126 468,126 468.7,128.7 468.7,128.8 469.6,131.4 469.7,131.5 470.7,134.1 470.8,134.1 472,136.6 472.1,136.7 473.5,139.1 473.5,139.2 475.1,141.5 475.2,141.6 477,143.8 477,143.8 478.9,145.9 479,145.9 481,147.9 481.1,147.9 483.3,149.7 483.4,149.8 485.7,151.4 485.8,151.4 488.2,152.9 488.3,153 490.8,154.3 490.9,154.3 493.5,155.5 493.6,155.5 496.3,156.4 496.4,156.5 499.2,157.2 499.2,157.3 502.1,157.8 502.1,157.8 505,158.2 505.1,158.2 508,158.4 508,158.4 511,158.4 511,158.4 513.9,158.2 514,158.2 516.9,157.8 516.9,157.8 519.8,157.3 519.8,157.2 522.6,156.5 522.7,156.4 525.4,155.5 525.5,155.5 528.1,154.3 528.2,154.3 530.7,153 530.8,152.9 533.3,151.4 533.3,151.4 599.7,105.8 599.7,105.8 602.6,103.8 602.7,103.7 605.3,101.6 605.3,101.6 607.8,99.2 607.8,99.2 610.1,96.7 610.1,96.7 612.2,94.1 612.3,94 614.2,91.2 614.2,91.2 615.9,88.3 615.9,88.2 617.4,85.3 617.4,85.2 618.7,82.1 618.7,82.1 619.8,78.9 619.8,78.8 620.6,75.6 620.6,75.5 621.2,72.3 621.2,72.2 621.6,68.9 621.6,68.8 621.7,65.5 621.7,65.5 621.6,62.2 621.6,62.1 621.2,58.8 621.2,58.7 620.6,55.5 620.6,55.4 619.8,52.2 619.8,52.1 618.7,48.9 618.7,48.9 617.4,45.8 617.4,45.7 615.9,42.8 615.9,42.7 614.2,39.8 614.2,39.8 612.3,37 612.2,36.9 610.1,34.3 610.1,34.3 607.8,31.8 607.8,31.8 605.3,29.4 605.3,29.4 602.7,27.3 602.6,27.2 599.9,25.3 599.8,25.2 596.9,23.5 596.9,23.4 593.9,21.9 593.8,21.8 590.7,20.5 590.6,20.4 587.4,19.3 587.4,19.3 584.1,18.4 584,18.3 580.7,17.6 580.6,17.6 577.2,17.2 577.2,17.2Z"/></clipPath><g clip-path="url(#in3)">
<ellipse cx="572" cy="65.5" rx="41" ry="39.8" fill="#56632a"/>
<ellipse cx="572" cy="65.5" rx="11.6" ry="11.3" fill="#159515" stroke="#1d6a1d" stroke-width="0.8"/>
<text x="565.2" y="64" font-size="6.5" fill="#2456a6" font-family="Liberation Sans, sans-serif" textLength="11.5" lengthAdjust="spacingAndGlyphs">S_4</text>
<ellipse cx="509.5" cy="117.5" rx="41" ry="38.9" fill="#56632a"/>
<ellipse cx="509.5" cy="117.5" rx="12" ry="11.4" fill="#159515" stroke="#1d6a1d" stroke-width="0.8"/>
<text x="504.1" y="118" font-size="6.5" fill="#2456a6" font-family="Liberation Sans, sans-serif" textLength="11.7" lengthAdjust="spacingAndGlyphs">S_3</text>
</g>
<path d="M566.9,18.2 563.5,18.6 560.2,19.3 558.4,19.8 559,22 558.5,23.1 561,22.4 564.1,21.8 567.2,21.3 570.4,21.1 573.6,21.1 576.8,21.3 579.9,21.8 583,22.4 586.1,23.3 589.1,24.4 592,25.6 594.8,27.1 597.5,28.7 600.1,30.6 602.5,32.6 604.8,34.7 606.9,37 608.9,39.5 610.6,42 612.2,44.7 613.6,47.5 614.8,50.4 615.7,53.3 616.5,56.3 617.1,59.3 617.4,62.4 617.5,65.5 617.4,68.6 617.1,71.7 616.5,74.7 615.7,77.7 614.8,80.6 613.6,83.5 612.2,86.3 610.6,89 608.9,91.5 606.9,94 604.8,96.3 602.5,98.4 600.1,100.4 597.3,102.4 540.2,141.6 541.9,144.3 599.1,105 602,103 604.6,100.8 607.1,98.5 609.3,96.1 611.4,93.4 613.3,90.7 615,87.8 616.5,84.8 617.8,81.7 618.8,78.6 619.6,75.4 620.2,72.1 620.6,68.8 620.7,65.5 620.6,62.2 620.2,58.9 619.6,55.6 618.8,52.4 617.8,49.3 616.5,46.2 615,43.2 613.3,40.3 611.4,37.6 609.3,34.9 607.1,32.5 604.6,30.2 602,28 599.3,26.1 596.4,24.3 593.4,22.7 590.3,21.4 587.1,20.2 583.8,19.3 580.5,18.6 577.1,18.2 573.7,17.9 570.3,17.9Z" fill="#743e46"/>
<path d="M567.2,21.3 564.1,21.8 561,22.4 558.5,23.1 556.7,27.1 558.9,26.3 561.7,25.5 564.6,24.9 567.6,24.5 570.5,24.3 573.5,24.3 576.4,24.5 579.4,24.9 582.3,25.5 585.1,26.3 587.9,27.3 590.6,28.5 593.2,29.9 595.7,31.4 598.1,33.1 600.4,35 602.5,37 604.5,39.1 606.3,41.4 607.9,43.8 609.4,46.3 610.7,48.8 611.8,51.5 612.7,54.2 613.4,57 613.9,59.8 614.2,62.6 614.3,65.5 614.2,68.4 613.9,71.2 613.4,74 612.7,76.8 611.8,79.5 610.7,82.2 609.4,84.7 607.9,87.2 606.3,89.6 604.5,91.9 602.5,94 600.4,96 598.1,97.9 595.5,99.8 538.4,138.9 540.2,141.6 597.3,102.4 600.1,100.4 602.5,98.4 604.8,96.3 606.9,94 608.9,91.5 610.6,89 612.2,86.3 613.6,83.5 614.8,80.6 615.7,77.7 616.5,74.7 617.1,71.7 617.4,68.6 617.5,65.5 617.4,62.4 617.1,59.3 616.5,56.3 615.7,53.3 614.8,50.4 613.6,47.5 612.2,44.7 610.6,42 608.9,39.5 606.9,37 604.8,34.7 602.5,32.6 600.1,30.6 597.5,28.7 594.8,27.1 592,25.6 589.1,24.4 586.1,23.3 583,22.4 579.9,21.8 576.8,21.3 573.6,21.1 570.4,21.1Z" fill="#8e147a"/>
<path d="M552,28.5 556.5,21.5 563.6,20 563,26.5Z" fill="#2a0a1a"/>
<g clip-path="url(#in3)"><path d="M551.4,112.8 L551.4,128 Q561.7,134 572,128 L572,112.8 Z" fill="#a4801a"/>
<ellipse cx="561.7" cy="112.8" rx="10.3" ry="10.2" fill="#a07814"/></g>
</g></g>
<rect x="440" y="5" width="1" height="195" fill="#aab0e0"/>
<text x="3" y="214.8" font-size="9.3" fill="#444" font-family="Liberation Sans, Arial, sans-serif" textLength="27" lengthAdjust="spacingAndGlyphs">Xpeedic</text>
<text x="341" y="227.3" font-size="12.5" fill="#222" text-anchor="middle" font-family="Liberation Sans, Arial, sans-serif">Plot2</text>
<line x1="127.9" y1="238" x2="127.9" y2="554" stroke="#dcdcdc" stroke-width="1"/>
<line x1="199.2" y1="238" x2="199.2" y2="554" stroke="#dcdcdc" stroke-width="1"/>
<line x1="270.6" y1="238" x2="270.6" y2="554" stroke="#dcdcdc" stroke-width="1"/>
<line x1="342" y1="238" x2="342" y2="554" stroke="#dcdcdc" stroke-width="1"/>
<line x1="413.4" y1="238" x2="413.4" y2="554" stroke="#dcdcdc" stroke-width="1"/>
<line x1="484.8" y1="238" x2="484.8" y2="554" stroke="#dcdcdc" stroke-width="1"/>
<line x1="556.1" y1="238" x2="556.1" y2="554" stroke="#dcdcdc" stroke-width="1"/>
<line x1="627.5" y1="238" x2="627.5" y2="554" stroke="#dcdcdc" stroke-width="1"/>
<line x1="56.5" y1="277.5" x2="641.5" y2="277.5" stroke="#dcdcdc" stroke-width="1"/>
<line x1="56.5" y1="317" x2="641.5" y2="317" stroke="#dcdcdc" stroke-width="1"/>
<line x1="56.5" y1="356.5" x2="641.5" y2="356.5" stroke="#dcdcdc" stroke-width="1"/>
<line x1="56.5" y1="396" x2="641.5" y2="396" stroke="#dcdcdc" stroke-width="1"/>
<line x1="56.5" y1="435.5" x2="641.5" y2="435.5" stroke="#dcdcdc" stroke-width="1"/>
<line x1="56.5" y1="475" x2="641.5" y2="475" stroke="#dcdcdc" stroke-width="1"/>
<line x1="56.5" y1="514.5" x2="641.5" y2="514.5" stroke="#dcdcdc" stroke-width="1"/>
<polyline points="56.50,238.00 57.93,238.56 59.36,238.81 60.78,239.01 62.21,239.19 63.64,239.35 65.06,239.50 66.49,239.65 67.92,239.79 69.35,239.93 70.78,240.06 72.20,240.20 73.63,240.33 75.06,240.46 76.48,240.58 77.91,240.71 79.34,240.84 80.77,240.97 82.19,241.09 83.62,241.22 85.05,241.34 86.48,241.46 87.91,241.59 89.33,241.71 90.76,241.83 92.19,241.95 93.62,242.07 95.04,242.19 96.47,242.30 97.90,242.42 99.33,242.53 100.75,242.64 102.18,242.76 103.61,242.86 105.03,242.97 106.46,243.08 107.89,243.18 109.32,243.28 110.75,243.38 112.17,243.47 113.60,243.56 115.03,243.65 116.46,243.74 117.88,243.83 119.31,243.91 120.74,243.99 122.17,244.07 123.59,244.14 125.02,244.21 126.45,244.28 127.88,244.34 129.30,244.40 130.73,244.46 132.16,244.52 133.59,244.57 135.01,244.62 136.44,244.67 137.87,244.71 139.30,244.75 140.72,244.79 142.15,244.83 143.58,244.86 145.00,244.89 146.43,244.92 147.86,244.95 149.29,244.97 150.72,245.00 152.14,245.02 153.57,245.04 155.00,245.06 156.43,245.07 157.85,245.09 159.28,245.10 160.71,245.12 162.13,245.13 163.56,245.14 164.99,245.16 166.42,245.17 167.85,245.18 169.27,245.20 170.70,245.21 172.13,245.22 173.56,245.24 174.98,245.25 176.41,245.27 177.84,245.29 179.26,245.30 180.69,245.32 182.12,245.35 183.55,245.37 184.97,245.39 186.40,245.42 187.83,245.45 189.26,245.48 190.69,245.51 192.11,245.55 193.54,245.58 194.97,245.62 196.40,245.67 197.82,245.71 199.25,245.76 200.68,245.81 202.11,245.86 203.53,245.91 204.96,245.97 206.39,246.03 207.82,246.09 209.24,246.16 210.67,246.22 212.10,246.29 213.53,246.36 214.95,246.43 216.38,246.51 217.81,246.59 219.24,246.66 220.66,246.75 222.09,246.83 223.52,246.91 224.95,247.00 226.37,247.08 227.80,247.17 229.23,247.26 230.66,247.34 232.08,247.43 233.51,247.52 234.94,247.61 236.37,247.70 237.79,247.79 239.22,247.88 240.65,247.97 242.08,248.06 243.50,248.15 244.93,248.24 246.36,248.32 247.78,248.41 249.21,248.49 250.64,248.57 252.07,248.65 253.50,248.73 254.92,248.81 256.35,248.89 257.78,248.96 259.21,249.03 260.63,249.10 262.06,249.17 263.49,249.23 264.92,249.29 266.34,249.35 267.77,249.41 269.20,249.46 270.62,249.52 272.05,249.56 273.48,249.61 274.91,249.65 276.34,249.69 277.76,249.73 279.19,249.77 280.62,249.80 282.05,249.83 283.47,249.86 284.90,249.89 286.33,249.91 287.75,249.93 289.18,249.95 290.61,249.96 292.04,249.98 293.47,249.99 294.89,250.00 296.32,250.01 297.75,250.02 299.18,250.03 300.60,250.03 302.03,250.04 303.46,250.04 304.89,250.05 306.31,250.05 307.74,250.05 309.17,250.05 310.60,250.06 312.02,250.06 313.45,250.06 314.88,250.06 316.31,250.07 317.73,250.07 319.16,250.08 320.59,250.08 322.02,250.09 323.44,250.10 324.87,250.11 326.30,250.12 327.73,250.14 329.15,250.15 330.58,250.17 332.01,250.19 333.44,250.21 334.86,250.23 336.29,250.26 337.72,250.29 339.15,250.32 340.57,250.35 342.00,250.39 343.43,250.43 344.86,250.47 346.28,250.51 347.71,250.56 349.14,250.61 350.57,250.66 351.99,250.71 353.42,250.77 354.85,250.83 356.28,250.89 357.70,250.95 359.13,251.02 360.56,251.08 361.99,251.15 363.41,251.22 364.84,251.30 366.27,251.37 367.69,251.45 369.12,251.53 370.55,251.60 371.98,251.69 373.41,251.77 374.83,251.85 376.26,251.93 377.69,252.01 379.12,252.10 380.54,252.18 381.97,252.27 383.40,252.35 384.82,252.43 386.25,252.52 387.68,252.60 389.11,252.68 390.54,252.76 391.96,252.84 393.39,252.92 394.82,253.00 396.25,253.07 397.67,253.15 399.10,253.22 400.53,253.29 401.96,253.36 403.38,253.42 404.81,253.49 406.24,253.55 407.67,253.61 409.09,253.67 410.52,253.72 411.95,253.77 413.38,253.82 414.80,253.87 416.23,253.92 417.66,253.96 419.09,254.00 420.51,254.03 421.94,254.07 423.37,254.10 424.80,254.13 426.22,254.15 427.65,254.18 429.08,254.20 430.51,254.22 431.93,254.24 433.36,254.25 434.79,254.26 436.22,254.27 437.64,254.28 439.07,254.29 440.50,254.30 441.93,254.30 443.35,254.30 444.78,254.30 446.21,254.31 447.64,254.31 449.06,254.30 450.49,254.30 451.92,254.30 453.35,254.30 454.77,254.30 456.20,254.30 457.63,254.29 459.06,254.29 460.48,254.29 461.91,254.29 463.34,254.29 464.77,254.30 466.19,254.30 467.62,254.30 469.05,254.31 470.48,254.32 471.90,254.33 473.33,254.34 474.76,254.35 476.19,254.37 477.61,254.39 479.04,254.40 480.47,254.43 481.90,254.45 483.32,254.48 484.75,254.51 486.18,254.54 487.61,254.57 489.03,254.61 490.46,254.65 491.89,254.69 493.32,254.74 494.74,254.78 496.17,254.83 497.60,254.89 499.03,254.94 500.45,255.00 501.88,255.06 503.31,255.12 504.74,255.18 506.16,255.25 507.59,255.32 509.02,255.39 510.44,255.46 511.87,255.53 513.30,255.60 514.73,255.68 516.15,255.76 517.58,255.84 519.01,255.91 520.44,255.99 521.87,256.07 523.29,256.15 524.72,256.23 526.15,256.32 527.58,256.40 529.00,256.48 530.43,256.56 531.86,256.64 533.28,256.72 534.71,256.79 536.14,256.87 537.57,256.95 539.00,257.02 540.42,257.10 541.85,257.17 543.28,257.24 544.71,257.31 546.13,257.37 547.56,257.44 548.99,257.50 550.41,257.56 551.84,257.62 553.27,257.67 554.70,257.72 556.12,257.77 557.55,257.82 558.98,257.87 560.41,257.91 561.84,257.95 563.26,257.99 564.69,258.02 566.12,258.05 567.55,258.08 568.97,258.11 570.40,258.13 571.83,258.15 573.26,258.17 574.68,258.19 576.11,258.21 577.54,258.22 578.97,258.23 580.39,258.24 581.82,258.24 583.25,258.25 584.68,258.25 586.10,258.26 587.53,258.26 588.96,258.26 590.38,258.25 591.81,258.25 593.24,258.25 594.67,258.25 596.10,258.24 597.52,258.24 598.95,258.23 600.38,258.23 601.81,258.23 603.23,258.22 604.66,258.22 606.09,258.22 607.51,258.22 608.94,258.22 610.37,258.22 611.80,258.22 613.23,258.22 614.65,258.23 616.08,258.23 617.51,258.24 618.94,258.25 620.36,258.27 621.79,258.28 623.22,258.30 624.65,258.32 626.07,258.34 627.50,258.36" fill="none" stroke="#d0406a" stroke-width="1.7" stroke-linejoin="round"/>
<polyline points="56.50,238.00 57.93,238.73 59.36,239.09 60.78,239.41 62.21,239.73 63.64,240.06 65.06,240.40 66.49,240.76 67.92,241.14 69.35,241.53 70.78,241.95 72.20,242.38 73.63,242.83 75.06,243.30 76.48,243.79 77.91,244.29 79.34,244.81 80.77,245.34 82.19,245.89 83.62,246.44 85.05,247.00 86.48,247.58 87.91,248.15 89.33,248.73 90.76,249.32 92.19,249.90 93.62,250.48 95.04,251.06 96.47,251.64 97.90,252.21 99.33,252.77 100.75,253.32 102.18,253.86 103.61,254.38 105.03,254.89 106.46,255.38 107.89,255.86 109.32,256.31 110.75,256.74 112.17,257.15 113.60,257.54 115.03,257.90 116.46,258.24 117.88,258.55 119.31,258.83 120.74,259.08 122.17,259.31 123.59,259.50 125.02,259.66 126.45,259.80 127.88,259.90 129.30,259.97 130.73,260.01 132.16,260.02 133.59,260.00 135.01,259.95 136.44,259.87 137.87,259.76 139.30,259.63 140.72,259.46 142.15,259.27 143.58,259.06 145.00,258.82 146.43,258.55 147.86,258.27 149.29,257.96 150.72,257.64 152.14,257.30 153.57,256.94 155.00,256.56 156.43,256.18 157.85,255.78 159.28,255.38 160.71,254.97 162.13,254.55 163.56,254.13 164.99,253.71 166.42,253.28 167.85,252.86 169.27,252.45 170.70,252.04 172.13,251.64 173.56,251.24 174.98,250.86 176.41,250.49 177.84,250.14 179.26,249.80 180.69,249.48 182.12,249.18 183.55,248.91 184.97,248.65 186.40,248.41 187.83,248.21 189.26,248.02 190.69,247.86 192.11,247.73 193.54,247.63 194.97,247.56 196.40,247.51 197.82,247.50 199.25,247.52 200.68,247.56 202.11,247.64 203.53,247.74 204.96,247.88 206.39,248.04 207.82,248.24 209.24,248.46 210.67,248.71 212.10,248.99 213.53,249.30 214.95,249.63 216.38,249.99 217.81,250.36 219.24,250.77 220.66,251.19 222.09,251.63 223.52,252.09 224.95,252.56 226.37,253.05 227.80,253.56 229.23,254.07 230.66,254.60 232.08,255.13 233.51,255.67 234.94,256.21 236.37,256.76 237.79,257.30 239.22,257.85 240.65,258.39 242.08,258.93 243.50,259.46 244.93,259.98 246.36,260.49 247.78,260.98 249.21,261.47 250.64,261.93 252.07,262.38 253.50,262.82 254.92,263.23 256.35,263.62 257.78,263.98 259.21,264.33 260.63,264.65 262.06,264.94 263.49,265.20 264.92,265.44 266.34,265.65 267.77,265.82 269.20,265.97 270.62,266.09 272.05,266.18 273.48,266.24 274.91,266.27 276.34,266.27 277.76,266.23 279.19,266.17 280.62,266.08 282.05,265.96 283.47,265.81 284.90,265.64 286.33,265.43 287.75,265.21 289.18,264.95 290.61,264.68 292.04,264.38 293.47,264.07 294.89,263.73 296.32,263.38 297.75,263.01 299.18,262.62 300.60,262.22 302.03,261.82 303.46,261.40 304.89,260.97 306.31,260.54 307.74,260.11 309.17,259.67 310.60,259.24 312.02,258.80 313.45,258.37 314.88,257.95 316.31,257.53 317.73,257.13 319.16,256.73 320.59,256.35 322.02,255.98 323.44,255.62 324.87,255.29 326.30,254.97 327.73,254.68 329.15,254.40 330.58,254.15 332.01,253.93 333.44,253.73 334.86,253.55 336.29,253.41 337.72,253.29 339.15,253.20 340.57,253.14 342.00,253.11 343.43,253.10 344.86,253.13 346.28,253.19 347.71,253.28 349.14,253.40 350.57,253.55 351.99,253.73 353.42,253.94 354.85,254.17 356.28,254.44 357.70,254.73 359.13,255.04 360.56,255.38 361.99,255.75 363.41,256.14 364.84,256.54 366.27,256.97 367.69,257.42 369.12,257.88 370.55,258.36 371.98,258.86 373.41,259.36 374.83,259.88 376.26,260.40 377.69,260.93 379.12,261.46 380.54,262.00 381.97,262.54 383.40,263.08 384.82,263.61 386.25,264.14 387.68,264.66 389.11,265.18 390.54,265.68 391.96,266.18 393.39,266.66 394.82,267.12 396.25,267.57 397.67,268.00 399.10,268.41 400.53,268.80 401.96,269.16 403.38,269.50 404.81,269.82 406.24,270.11 407.67,270.37 409.09,270.61 410.52,270.82 411.95,271.00 413.38,271.15 414.80,271.27 416.23,271.36 417.66,271.41 419.09,271.44 420.51,271.44 421.94,271.41 423.37,271.35 424.80,271.26 426.22,271.14 427.65,270.99 429.08,270.82 430.51,270.61 431.93,270.39 433.36,270.13 434.79,269.86 436.22,269.56 437.64,269.24 439.07,268.90 440.50,268.55 441.93,268.18 443.35,267.79 444.78,267.39 446.21,266.98 447.64,266.56 449.06,266.13 450.49,265.70 451.92,265.26 453.35,264.82 454.77,264.38 456.20,263.94 457.63,263.50 459.06,263.07 460.48,262.65 461.91,262.23 463.34,261.83 464.77,261.44 466.19,261.06 467.62,260.70 469.05,260.35 470.48,260.03 471.90,259.72 473.33,259.44 474.76,259.18 476.19,258.94 477.61,258.73 479.04,258.55 480.47,258.39 481.90,258.26 483.32,258.16 484.75,258.09 486.18,258.04 487.61,258.03 489.03,258.05 490.46,258.10 491.89,258.17 493.32,258.28 494.74,258.42 496.17,258.59 497.60,258.79 499.03,259.01 500.45,259.26 501.88,259.54 503.31,259.85 504.74,260.18 506.16,260.54 507.59,260.92 509.02,261.32 510.44,261.74 511.87,262.18 513.30,262.63 514.73,263.10 516.15,263.59 517.58,264.09 519.01,264.60 520.44,265.11 521.87,265.64 523.29,266.17 524.72,266.70 526.15,267.24 527.58,267.77 529.00,268.30 530.43,268.83 531.86,269.35 533.28,269.86 534.71,270.37 536.14,270.86 537.57,271.34 539.00,271.80 540.42,272.25 541.85,272.68 543.28,273.09 544.71,273.48 546.13,273.85 547.56,274.19 548.99,274.51 550.41,274.80 551.84,275.07 553.27,275.31 554.70,275.52 556.12,275.70 557.55,275.86 558.98,275.98 560.41,276.07 561.84,276.14 563.26,276.17 564.69,276.17 566.12,276.14 567.55,276.08 568.97,276.00 570.40,275.88 571.83,275.73 573.26,275.56 574.68,275.36 576.11,275.14 577.54,274.89 578.97,274.62 580.39,274.32 581.82,274.00 583.25,273.67 584.68,273.31 586.10,272.94 587.53,272.55 588.96,272.15 590.38,271.74 591.81,271.32 593.24,270.89 594.67,270.45 596.10,270.01 597.52,269.57 598.95,269.13 600.38,268.68 601.81,268.24 603.23,267.81 604.66,267.38 606.09,266.96 607.51,266.55 608.94,266.15 610.37,265.77 611.80,265.40 613.23,265.05 614.65,264.72 616.08,264.41 617.51,264.12 618.94,263.85 620.36,263.60 621.79,263.38 623.22,263.19 624.65,263.02 626.07,262.88 627.50,262.77" fill="none" stroke="#3a9a3a" stroke-width="1.9" stroke-linejoin="round"/>
<polyline points="56.50,238.02 57.93,239.87 59.36,241.35 60.78,243.10 62.21,245.16 63.64,247.51 65.06,250.16 66.49,253.09 67.92,256.29 69.35,259.76 70.78,263.46 72.20,267.40 73.63,271.55 75.06,275.89 76.48,280.42 77.91,285.12 79.34,289.96 80.77,294.94 82.19,300.03 83.62,305.22 85.05,310.48 86.48,315.81 87.91,321.18 89.33,326.57 90.76,331.96 92.19,337.35 93.62,342.70 95.04,348.01 96.47,353.25 97.90,358.41 99.33,363.46 100.75,368.40 102.18,373.21 103.61,377.87 105.03,382.37 106.46,386.68 107.89,390.81 109.32,394.73 110.75,398.43 112.17,401.90 113.60,405.13 115.03,408.11 116.46,410.82 117.88,413.27 119.31,415.44 120.74,417.33 122.17,418.93 123.59,420.23 125.02,421.23 126.45,421.93 127.88,422.33 129.30,422.43 130.73,422.22 132.16,421.71 133.59,420.90 135.01,419.79 136.44,418.38 137.87,416.69 139.30,414.72 140.72,412.47 142.15,409.95 143.58,407.18 145.00,404.16 146.43,400.89 147.86,397.41 149.29,393.70 150.72,389.80 152.14,385.70 153.57,381.44 155.00,377.01 156.43,372.44 157.85,367.74 159.28,362.93 160.71,358.02 162.13,353.04 163.56,348.00 164.99,342.91 166.42,337.80 167.85,332.69 169.27,327.58 170.70,322.51 172.13,317.49 173.56,312.53 174.98,307.66 176.41,302.89 177.84,298.25 179.26,293.74 180.69,289.40 182.12,285.23 183.55,281.25 184.97,277.48 186.40,273.94 187.83,270.65 189.26,267.61 190.69,264.85 192.11,262.39 193.54,260.23 194.97,258.40 196.40,256.93 197.82,255.83 199.25,255.13 200.68,254.92 202.11,255.32 203.53,256.20 204.96,257.50 206.39,259.16 207.82,261.18 209.24,263.53 210.67,266.19 212.10,269.14 213.53,272.37 214.95,275.86 216.38,279.59 217.81,283.55 219.24,287.72 220.66,292.09 222.09,296.63 223.52,301.33 224.95,306.17 226.37,311.13 227.80,316.20 229.23,321.35 230.66,326.57 232.08,331.85 233.51,337.15 234.94,342.46 236.37,347.77 237.79,353.06 239.22,358.31 240.65,363.49 242.08,368.60 243.50,373.61 244.93,378.51 246.36,383.29 247.78,387.92 249.21,392.40 250.64,396.70 252.07,400.81 253.50,404.72 254.92,408.41 256.35,411.89 257.78,415.12 259.21,418.10 260.63,420.83 262.06,423.29 263.49,425.48 264.92,427.38 266.34,429.00 267.77,430.32 269.20,431.35 270.62,432.08 272.05,432.50 273.48,432.63 274.91,432.44 276.34,431.96 277.76,431.18 279.19,430.10 280.62,428.72 282.05,427.06 283.47,425.11 284.90,422.89 286.33,420.39 287.75,417.64 289.18,414.64 290.61,411.40 292.04,407.93 293.47,404.24 294.89,400.35 296.32,396.26 297.75,392.00 299.18,387.58 300.60,383.01 302.03,378.31 303.46,373.49 304.89,368.58 306.31,363.58 307.74,358.52 309.17,353.42 310.60,348.28 312.02,343.14 313.45,338.00 314.88,332.90 316.31,327.83 317.73,322.84 319.16,317.92 320.59,313.10 322.02,308.40 323.44,303.84 324.87,299.44 326.30,295.20 327.73,291.16 329.15,287.32 330.58,283.70 332.01,280.32 333.44,277.21 334.86,274.36 336.29,271.80 337.72,269.55 339.15,267.63 340.57,266.05 342.00,264.84 343.43,264.03 344.86,263.68 346.28,263.92 347.71,264.69 349.14,265.87 350.57,267.44 351.99,269.36 353.42,271.61 354.85,274.18 356.28,277.05 357.70,280.20 359.13,283.62 360.56,287.28 361.99,291.17 363.41,295.28 364.84,299.58 366.27,304.07 367.69,308.72 369.12,313.51 370.55,318.43 371.98,323.46 373.41,328.58 374.83,333.77 376.26,339.01 377.69,344.29 379.12,349.59 380.54,354.89 381.97,360.17 383.40,365.41 384.82,370.59 386.25,375.70 387.68,380.72 389.11,385.64 390.54,390.43 391.96,395.08 393.39,399.58 394.82,403.90 396.25,408.04 397.67,411.99 399.10,415.72 400.53,419.23 401.96,422.50 403.38,425.53 404.81,428.30 406.24,430.81 407.67,433.04 409.09,435.00 410.52,436.67 411.95,438.05 413.38,439.13 414.80,439.91 416.23,440.39 417.66,440.57 419.09,440.44 420.51,440.02 421.94,439.29 423.37,438.26 424.80,436.94 426.22,435.33 427.65,433.43 429.08,431.26 430.51,428.82 431.93,426.11 433.36,423.15 434.79,419.95 436.22,416.52 437.64,412.87 439.07,409.01 440.50,404.95 441.93,400.72 443.35,396.32 444.78,391.77 446.21,387.09 447.64,382.29 449.06,377.38 450.49,372.39 451.92,367.34 453.35,362.23 454.77,357.09 456.20,351.94 457.63,346.79 459.06,341.66 460.48,336.58 461.91,331.55 463.34,326.60 464.77,321.75 466.19,317.02 467.62,312.41 469.05,307.96 470.48,303.68 471.90,299.58 473.33,295.68 474.76,292.00 476.19,288.56 477.61,285.37 479.04,282.45 480.47,279.82 481.90,277.49 483.32,275.48 484.75,273.82 486.18,272.51 487.61,271.60 489.03,271.12 490.46,271.22 491.89,271.87 493.32,272.95 494.74,274.43 496.17,276.26 497.60,278.43 499.03,280.93 500.45,283.72 501.88,286.80 503.31,290.15 504.74,293.75 506.16,297.58 507.59,301.63 509.02,305.88 510.44,310.32 511.87,314.93 513.30,319.68 514.73,324.56 516.15,329.56 517.58,334.65 519.01,339.82 520.44,345.05 521.87,350.32 523.29,355.61 524.72,360.90 526.15,366.17 527.58,371.41 529.00,376.61 530.43,381.73 531.86,386.76 533.28,391.70 534.71,396.51 536.14,401.18 537.57,405.71 539.00,410.07 540.42,414.24 541.85,418.23 543.28,422.00 544.71,425.55 546.13,428.87 547.56,431.95 548.99,434.77 550.41,437.33 551.84,439.62 553.27,441.64 554.70,443.36 556.12,444.80 557.55,445.94 558.98,446.79 560.41,447.33 561.84,447.57 563.26,447.51 564.69,447.14 566.12,446.47 567.55,445.51 568.97,444.24 570.40,442.69 571.83,440.85 573.26,438.74 574.68,436.35 576.11,433.69 577.54,430.78 578.97,427.63 580.39,424.24 581.82,420.63 583.25,416.81 584.68,412.80 586.10,408.60 587.53,404.23 588.96,399.71 590.38,395.04 591.81,390.26 593.24,385.37 594.67,380.39 596.10,375.34 597.52,370.24 598.95,365.10 600.38,359.94 601.81,354.79 603.23,349.65 604.66,344.55 606.09,339.50 607.51,334.53 608.94,329.65 610.37,324.88 611.80,320.24 613.23,315.74 614.65,311.41 616.08,307.26 617.51,303.31 618.94,299.58 620.36,296.08 621.79,292.83 623.22,289.84 624.65,287.14 626.07,284.73 627.50,282.64" fill="none" stroke="#3a3ad4" stroke-width="2.0" stroke-linejoin="round"/>
<line x1="56.5" y1="238.4" x2="641.5" y2="238.4" stroke="#7a7a7a" stroke-width="1.3"/>
<line x1="641.3" y1="237.8" x2="641.3" y2="557" stroke="#6a6a6a" stroke-width="1.5"/>
<line x1="56.5" y1="238" x2="56.5" y2="558" stroke="#8a8a8a" stroke-width="1.3"/>
<line x1="52" y1="554" x2="641.5" y2="554" stroke="#a6a6a6" stroke-width="1.8"/>
<line x1="52" y1="238" x2="56.5" y2="238" stroke="#888" stroke-width="1"/>
<text x="52.8" y="241.3" font-size="9.4" font-weight="bold" fill="#262626" text-anchor="end" font-family="Liberation Sans, Arial, sans-serif">0</text>
<line x1="52" y1="277.5" x2="56.5" y2="277.5" stroke="#888" stroke-width="1"/>
<text x="52.8" y="280.8" font-size="9.4" font-weight="bold" fill="#262626" text-anchor="end" font-family="Liberation Sans, Arial, sans-serif">-0.25</text>
<line x1="52" y1="317" x2="56.5" y2="317" stroke="#888" stroke-width="1"/>
<text x="52.8" y="320.3" font-size="9.4" font-weight="bold" fill="#262626" text-anchor="end" font-family="Liberation Sans, Arial, sans-serif">-0.50</text>
<line x1="52" y1="356.5" x2="56.5" y2="356.5" stroke="#888" stroke-width="1"/>
<text x="52.8" y="359.8" font-size="9.4" font-weight="bold" fill="#262626" text-anchor="end" font-family="Liberation Sans, Arial, sans-serif">-0.75</text>
<line x1="52" y1="396" x2="56.5" y2="396" stroke="#888" stroke-width="1"/>
<text x="52.8" y="399.3" font-size="9.4" font-weight="bold" fill="#262626" text-anchor="end" font-family="Liberation Sans, Arial, sans-serif">-1.00</text>
<line x1="52" y1="435.5" x2="56.5" y2="435.5" stroke="#888" stroke-width="1"/>
<text x="52.8" y="438.8" font-size="9.4" font-weight="bold" fill="#262626" text-anchor="end" font-family="Liberation Sans, Arial, sans-serif">-1.25</text>
<line x1="52" y1="475" x2="56.5" y2="475" stroke="#888" stroke-width="1"/>
<text x="52.8" y="478.3" font-size="9.4" font-weight="bold" fill="#262626" text-anchor="end" font-family="Liberation Sans, Arial, sans-serif">-1.50</text>
<line x1="52" y1="514.5" x2="56.5" y2="514.5" stroke="#888" stroke-width="1"/>
<text x="52.8" y="517.8" font-size="9.4" font-weight="bold" fill="#262626" text-anchor="end" font-family="Liberation Sans, Arial, sans-serif">-1.75</text>
<line x1="52" y1="554" x2="56.5" y2="554" stroke="#888" stroke-width="1"/>
<text x="52.8" y="557.3" font-size="9.4" font-weight="bold" fill="#262626" text-anchor="end" font-family="Liberation Sans, Arial, sans-serif">-2.00</text>
<line x1="56.5" y1="554" x2="56.5" y2="558" stroke="#888" stroke-width="1"/>
<text x="56.5" y="566.3" font-size="9" font-weight="bold" fill="#262626" text-anchor="middle" font-family="Liberation Sans, Arial, sans-serif">0</text>
<line x1="127.9" y1="554" x2="127.9" y2="558" stroke="#888" stroke-width="1"/>
<text x="127.9" y="566.3" font-size="9" font-weight="bold" fill="#262626" text-anchor="middle" font-family="Liberation Sans, Arial, sans-serif">2.5</text>
<line x1="199.2" y1="554" x2="199.2" y2="558" stroke="#888" stroke-width="1"/>
<text x="199.2" y="566.3" font-size="9" font-weight="bold" fill="#262626" text-anchor="middle" font-family="Liberation Sans, Arial, sans-serif">5.0</text>
<line x1="270.6" y1="554" x2="270.6" y2="558" stroke="#888" stroke-width="1"/>
<text x="270.6" y="566.3" font-size="9" font-weight="bold" fill="#262626" text-anchor="middle" font-family="Liberation Sans, Arial, sans-serif">7.5</text>
<line x1="342" y1="554" x2="342" y2="558" stroke="#888" stroke-width="1"/>
<text x="342" y="566.3" font-size="9" font-weight="bold" fill="#262626" text-anchor="middle" font-family="Liberation Sans, Arial, sans-serif">10.0</text>
<line x1="413.4" y1="554" x2="413.4" y2="558" stroke="#888" stroke-width="1"/>
<text x="413.4" y="566.3" font-size="9" font-weight="bold" fill="#262626" text-anchor="middle" font-family="Liberation Sans, Arial, sans-serif">12.5</text>
<line x1="484.8" y1="554" x2="484.8" y2="558" stroke="#888" stroke-width="1"/>
<text x="484.8" y="566.3" font-size="9" font-weight="bold" fill="#262626" text-anchor="middle" font-family="Liberation Sans, Arial, sans-serif">15.0</text>
<line x1="556.1" y1="554" x2="556.1" y2="558" stroke="#888" stroke-width="1"/>
<text x="556.1" y="566.3" font-size="9" font-weight="bold" fill="#262626" text-anchor="middle" font-family="Liberation Sans, Arial, sans-serif">17.5</text>
<line x1="627.5" y1="554" x2="627.5" y2="558" stroke="#888" stroke-width="1"/>
<text x="627.5" y="566.3" font-size="9" font-weight="bold" fill="#262626" text-anchor="middle" font-family="Liberation Sans, Arial, sans-serif">20.0</text>
<text x="348.6" y="581" font-size="10" font-weight="bold" fill="#262626" text-anchor="middle" font-family="Liberation Sans, Arial, sans-serif">Freq(GHz)</text>
<text transform="translate(18,395.5) rotate(-90)" x="0" y="0" font-size="9.4" font-weight="bold" fill="#262626" text-anchor="middle" font-family="Liberation Sans, Arial, sans-serif">Magnitude (dB)</text>
<rect x="502.4" y="465.9" width="125.2" height="63.6" fill="#fff" stroke="#8a8a8a" stroke-width="1"/>
<line x1="505" y1="472.3" x2="531" y2="472.3" stroke="#d85a80" stroke-width="1.5"/>
<text x="534" y="475.1" font-size="7.8" fill="#5a5a5a" textLength="74.7" lengthAdjust="spacingAndGlyphs" font-family="Liberation Sans, Arial, sans-serif">dB(SDiff(3,Diff1,Diff2))</text>
<text x="505.5" y="484.8" font-size="7.8" fill="#5a5a5a" textLength="23.2" lengthAdjust="spacingAndGlyphs" font-family="Liberation Sans, Arial, sans-serif">45.s4p</text>
<line x1="505" y1="492.7" x2="531" y2="492.7" stroke="#4aa04a" stroke-width="1.5"/>
<text x="534" y="495.5" font-size="7.8" fill="#5a5a5a" textLength="74.7" lengthAdjust="spacingAndGlyphs" font-family="Liberation Sans, Arial, sans-serif">dB(SDiff(2,Diff1,Diff2))</text>
<text x="505.5" y="505.2" font-size="7.8" fill="#5a5a5a" textLength="23.2" lengthAdjust="spacingAndGlyphs" font-family="Liberation Sans, Arial, sans-serif">35.s4p</text>
<line x1="505" y1="513.1" x2="531" y2="513.1" stroke="#4848d8" stroke-width="1.5"/>
<text x="534" y="515.9" font-size="7.8" fill="#5a5a5a" textLength="74.7" lengthAdjust="spacingAndGlyphs" font-family="Liberation Sans, Arial, sans-serif">dB(SDiff(1,Diff1,Diff2))</text>
<text x="505.5" y="525.6" font-size="7.8" fill="#5a5a5a" textLength="23.2" lengthAdjust="spacingAndGlyphs" font-family="Liberation Sans, Arial, sans-serif">25.s4p</text>
</svg></body></html>
